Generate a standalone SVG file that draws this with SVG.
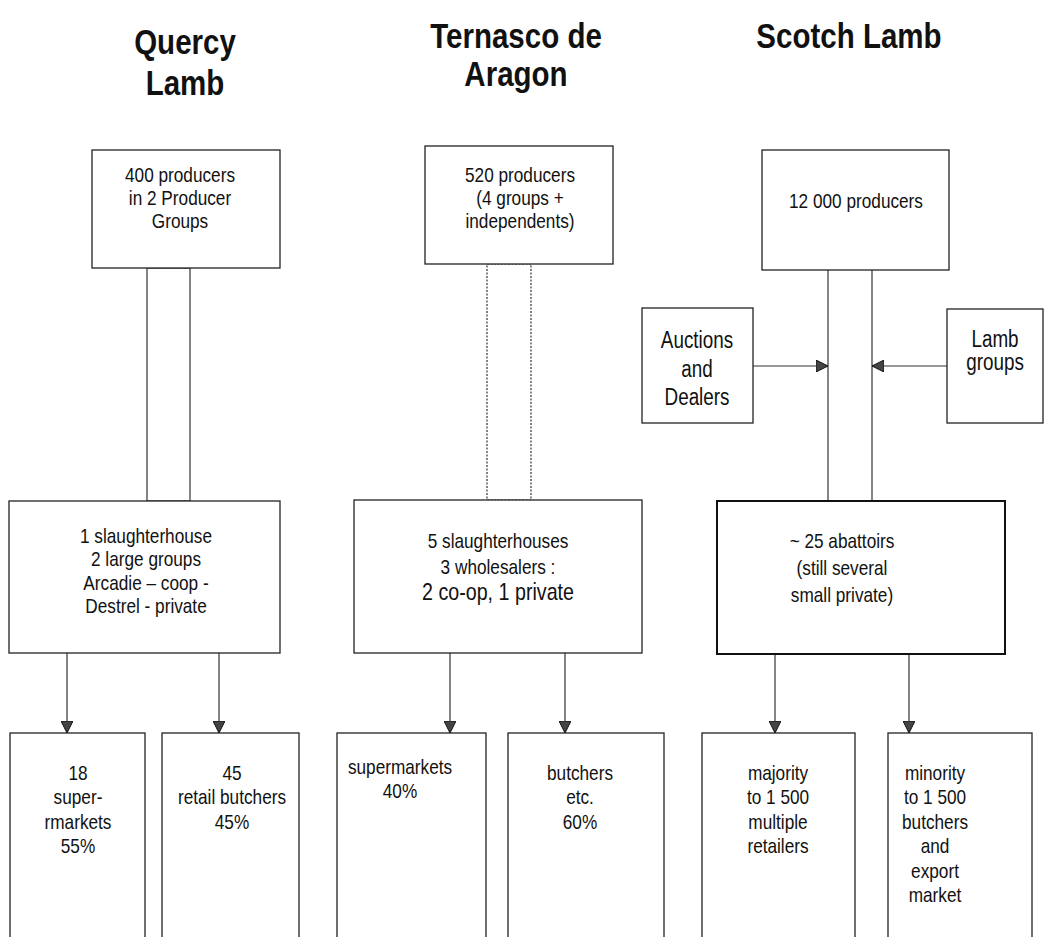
<svg xmlns="http://www.w3.org/2000/svg" width="1048" height="937" viewBox="0 0 1048 937">
<style>
.bx{fill:#fff;stroke:#222;stroke-width:1.3}
.bx2{fill:#fff;stroke:#111;stroke-width:2}
.ln{fill:none;stroke:#333;stroke-width:1.2}
.dot{fill:none;stroke:#333;stroke-width:1.2;stroke-dasharray:2 1.5}
.ttl{font-family:"Liberation Sans",Arial,sans-serif;font-weight:bold;font-size:36px;fill:#111;text-anchor:middle}
.t{font-family:"Liberation Sans",Arial,sans-serif;font-size:21px;fill:#111;text-anchor:middle}
.tb{font-family:"Liberation Sans",Arial,sans-serif;font-size:24px;fill:#111;text-anchor:middle}
.ta{font-family:"Liberation Sans",Arial,sans-serif;font-size:23px;fill:#111;text-anchor:middle}
</style>
<defs>
<marker id="ah" viewBox="0 0 12 12" refX="12" refY="6" markerWidth="12" markerHeight="12" markerUnits="userSpaceOnUse" orient="auto">
<path d="M0,0 L12,6 L0,12 Z" fill="#444" stroke="#111" stroke-width="1"/>
</marker>
</defs>
<rect width="1048" height="937" fill="#fff"/>

<g id="titles">
<text class="ttl" transform="translate(185 54) scale(0.82 1)">Quercy</text>
<text class="ttl" transform="translate(185 95) scale(0.82 1)">Lamb</text>
<text class="ttl" transform="translate(516 48) scale(0.82 1)">Ternasco de</text>
<text class="ttl" transform="translate(516 86) scale(0.82 1)">Aragon</text>
<text class="ttl" transform="translate(849 48) scale(0.82 1)">Scotch Lamb</text>
</g>

<g id="connectors">
<rect class="ln" x="147" y="268" width="43" height="233"/>
<rect class="dot" x="487" y="264" width="44" height="236"/>
<line class="ln" x1="828" y1="270" x2="828" y2="501"/>
<line class="ln" x1="872" y1="270" x2="872" y2="501"/>
<line class="ln" x1="753" y1="366" x2="828" y2="366" marker-end="url(#ah)"/>
<line class="ln" x1="947" y1="366" x2="872" y2="366" marker-end="url(#ah)"/>
<line class="ln" x1="67" y1="653" x2="67" y2="733" marker-end="url(#ah)"/>
<line class="ln" x1="219" y1="653" x2="219" y2="733" marker-end="url(#ah)"/>
<line class="ln" x1="450" y1="653" x2="450" y2="733" marker-end="url(#ah)"/>
<line class="ln" x1="565" y1="653" x2="565" y2="733" marker-end="url(#ah)"/>
<line class="ln" x1="775" y1="654" x2="775" y2="733" marker-end="url(#ah)"/>
<line class="ln" x1="909" y1="654" x2="909" y2="733" marker-end="url(#ah)"/>
</g>

<g id="quercy-producers">
<rect class="bx" x="92" y="150" width="188" height="118"/>
<text class="t" transform="translate(180 182) scale(0.82 1)">400 producers</text>
<text class="t" transform="translate(180 205) scale(0.82 1)">in 2 Producer</text>
<text class="t" transform="translate(180 228) scale(0.82 1)">Groups</text>
</g>

<g id="ternasco-producers">
<rect class="bx" x="425" y="146" width="188" height="118"/>
<text class="t" transform="translate(520 182) scale(0.82 1)">520 producers</text>
<text class="t" transform="translate(520 205) scale(0.82 1)">(4 groups +</text>
<text class="t" transform="translate(520 228) scale(0.82 1)">independents)</text>
</g>

<g id="scotch-producers">
<rect class="bx" x="762" y="150" width="187" height="120"/>
<text class="t" transform="translate(856 208) scale(0.82 1)">12 000 producers</text>
</g>

<g id="auctions">
<rect class="bx" x="642" y="308" width="111" height="115"/>
<text class="ta" transform="translate(697 348) scale(0.82 1)">Auctions</text>
<text class="ta" transform="translate(697 377) scale(0.82 1)">and</text>
<text class="ta" transform="translate(697 405) scale(0.82 1)">Dealers</text>
</g>

<g id="lamb-groups">
<rect class="bx" x="947" y="309" width="96" height="114"/>
<text class="ta" transform="translate(995 347) scale(0.82 1)">Lamb</text>
<text class="ta" transform="translate(995 370) scale(0.82 1)">groups</text>
</g>

<g id="quercy-slaughter">
<rect class="bx" x="9" y="501" width="271" height="152"/>
<text class="t" transform="translate(146 543) scale(0.82 1)">1 slaughterhouse</text>
<text class="t" transform="translate(146 566) scale(0.82 1)">2 large groups</text>
<text class="t" transform="translate(146 590) scale(0.82 1)">Arcadie – coop -</text>
<text class="t" transform="translate(146 613) scale(0.82 1)">Destrel - private</text>
</g>

<g id="ternasco-slaughter">
<rect class="bx" x="354" y="500" width="288" height="153"/>
<text class="t" transform="translate(498 548) scale(0.82 1)">5 slaughterhouses</text>
<text class="t" transform="translate(498 574) scale(0.82 1)">3 wholesalers :</text>
<text class="tb" transform="translate(498 600) scale(0.82 1)">2 co-op, 1 private</text>
</g>

<g id="scotch-abattoirs">
<rect class="bx2" x="717" y="501" width="288" height="153"/>
<text class="t" transform="translate(842 548) scale(0.82 1)">~ 25 abattoirs</text>
<text class="t" transform="translate(842 575) scale(0.82 1)">(still several</text>
<text class="t" transform="translate(842 602) scale(0.82 1)">small private)</text>
</g>

<g id="q-supermarkets">
<rect class="bx" x="10" y="733" width="135" height="215"/>
<text class="t" transform="translate(78 780) scale(0.82 1)">18</text>
<text class="t" transform="translate(78 804) scale(0.82 1)">super-</text>
<text class="t" transform="translate(78 829) scale(0.82 1)">rmarkets</text>
<text class="t" transform="translate(78 853) scale(0.82 1)">55%</text>
</g>

<g id="q-butchers">
<rect class="bx" x="162" y="733" width="137" height="215"/>
<text class="t" transform="translate(232 780) scale(0.82 1)">45</text>
<text class="t" transform="translate(232 804) scale(0.82 1)">retail butchers</text>
<text class="t" transform="translate(232 829) scale(0.82 1)">45%</text>
</g>

<g id="t-supermarkets">
<rect class="bx" x="337" y="733" width="149" height="215"/>
<text class="t" transform="translate(400 774) scale(0.82 1)">supermarkets</text>
<text class="t" transform="translate(400 798) scale(0.82 1)">40%</text>
</g>

<g id="t-butchers">
<rect class="bx" x="508" y="733" width="156" height="215"/>
<text class="t" transform="translate(580 780) scale(0.82 1)">butchers</text>
<text class="t" transform="translate(580 804) scale(0.82 1)">etc.</text>
<text class="t" transform="translate(580 829) scale(0.82 1)">60%</text>
</g>

<g id="s-multiples">
<rect class="bx" x="702" y="733" width="153" height="215"/>
<text class="t" transform="translate(778 780) scale(0.82 1)">majority</text>
<text class="t" transform="translate(778 804) scale(0.82 1)">to 1 500</text>
<text class="t" transform="translate(778 829) scale(0.82 1)">multiple</text>
<text class="t" transform="translate(778 853) scale(0.82 1)">retailers</text>
</g>

<g id="s-butchers">
<rect class="bx" x="888" y="733" width="144" height="215"/>
<text class="t" transform="translate(935 780) scale(0.82 1)">minority</text>
<text class="t" transform="translate(935 804) scale(0.82 1)">to 1 500</text>
<text class="t" transform="translate(935 829) scale(0.82 1)">butchers</text>
<text class="t" transform="translate(935 853) scale(0.82 1)">and</text>
<text class="t" transform="translate(935 878) scale(0.82 1)">export</text>
<text class="t" transform="translate(935 902) scale(0.82 1)">market</text>
</g>
</svg>
